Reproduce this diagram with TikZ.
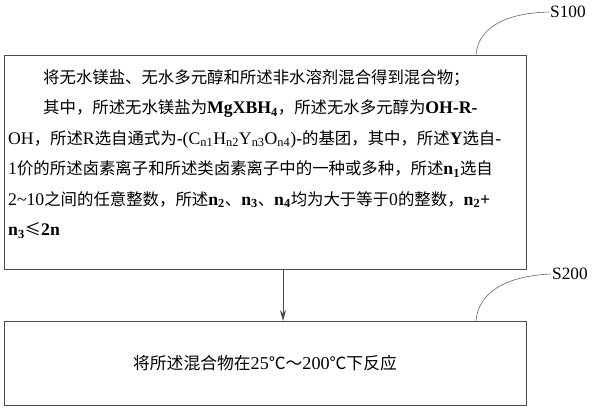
\documentclass[tikz,border=0pt]{standalone}
\usepackage{fontspec}
\setmainfont{Liberation Serif}[Scale=1.08]
\newfontfamily\cjk{Noto Sans CJK SC}
\usetikzlibrary{arrows.meta}
\newcommand\en[1]{{\rmfamily#1}}
\newcommand\bn[1]{{\rmfamily\bfseries#1}}
\newcommand\sub[1]{\textsubscript{#1}}
\begin{document}
\begin{tikzpicture}[x=1pt,y=-1pt,
    stepbox/.style={draw=black!70,line width=1pt,inner sep=0pt},
    lead/.style={draw=black!60,line width=0.6pt},
    txt/.style={inner sep=0pt,anchor=base west,font=\fontsize{16.4}{16.4}\selectfont\cjk},
    steplabel/.style={inner sep=1pt,anchor=west,font=\fontsize{16}{16}\selectfont}]
  \useasboundingbox (0,0) rectangle (600,410);
  \node[stepbox,minimum width=522pt,minimum height=84pt,font=\fontsize{16.8}{16.8}\selectfont\cjk] (b2) at (265,363.5)
    {将所述混合物在\en{25}℃～\en{200}℃下反应};
  \node[stepbox,minimum width=522pt,minimum height=214pt] (b1) at (265,162) {};
  % text of the first step, one node per line
  \node[txt] (t1) at (43,83) {将无水镁盐、无水多元醇和所述非水溶剂混合得到混合物；};
  \node[txt] (t2) at (43,113.5) {其中，所述无水镁盐为\bn{MgXBH\sub{4}}，所述无水多元醇为\bn{OH-R-}};
  \node[txt] (t3) at (8,144) {\en{OH}，所述\en{R}选自通式为\en{-(C\sub{n1}H\sub{n2}Y\sub{n3}O\sub{n4})-}的基团，其中，所述\bn{Y}选自\en{-}};
  \node[txt] (t4) at (8,174.5) {\en{1}价的所述卤素离子和所述类卤素离子中的一种或多种，所述\bn{n\sub{1}}选自};
  \node[txt] (t5) at (8,205) {\en{2\textasciitilde10}之间的任意整数，所述\bn{n\sub{2}}、\bn{n\sub{3}}、\bn{n\sub{4}}均为大于等于\en{0}的整数，\bn{n\sub{2}+}};
  \node[txt] (t6) at (8,235.5) {\bn{n\sub{3}}≤\bn{2n}};
  \node[steplabel] (l1) at (549,12) {S100};
  \node[steplabel] (l2) at (551,274) {S200};
  \coordinate (c1) at (476,55);
  \coordinate (c2) at (476,321);
  \begin{scope}[lead]
    \draw (c1) .. controls (478,28) and (505,13) .. (l1.west);
    \draw (c2) .. controls (478,293) and (505,276) .. (l2.west);
  \end{scope}
  \draw[black!70,line width=0.7pt,-{Stealth[length=11pt,width=6pt]}] ([xshift=18pt]b1.south) to ([xshift=18pt]b2.north);
\end{tikzpicture}
\end{document}
